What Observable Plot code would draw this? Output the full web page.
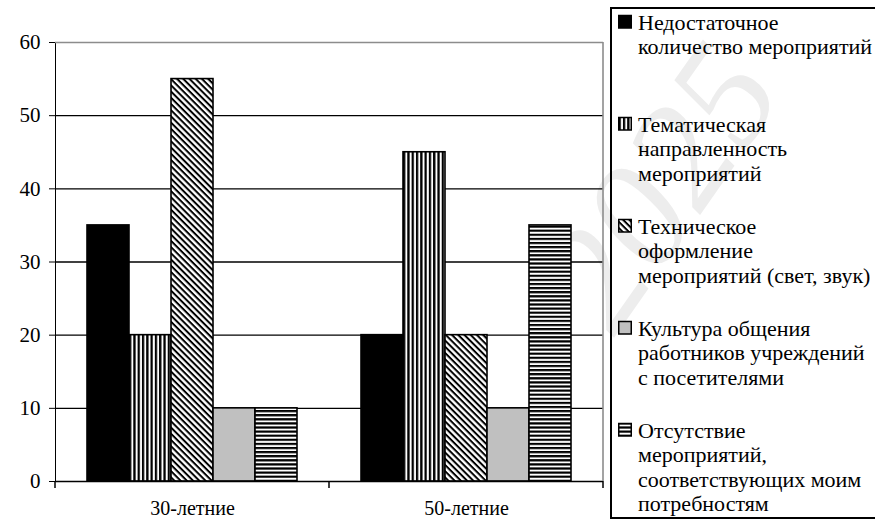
<!DOCTYPE html>
<html lang="ru">
<head>
<meta charset="utf-8">
<script src="https://cdn.jsdelivr.net/npm/d3@7"></script>
<script src="https://cdn.jsdelivr.net/npm/@observablehq/plot@0.6"></script>
<style>
  html, body { margin: 0; padding: 0; background: #fff; }
  body { font-family: "Liberation Serif", "Times New Roman", serif; color: #000; }
  #wrap { position: relative; width: 875px; height: 521px; overflow: hidden; background: #fff; }
  #watermark { position: absolute; left: 0; top: 0; z-index: 0; }
  #chart { position: absolute; left: 0; top: 0; z-index: 1; }
  #legend { position: absolute; left: 610px; top: 0; z-index: 1; overflow: hidden; }
</style>
</head>
<body>
<div id="wrap">
  <svg id="watermark" width="875" height="521"></svg>
  <div id="chart"></div>
  <svg id="legend" width="265" height="521"></svg>
</div>
<script>
// ---- data ----
const groups = ["30-летние", "50-летние"];
const series = [
  "Недостаточное количество мероприятий",
  "Тематическая направленность мероприятий",
  "Техническое оформление мероприятий (свет, звук)",
  "Культура общения работников учреждений с посетителями",
  "Отсутствие мероприятий, соответствующих моим потребностям"
];
const legendLines = [
  ["Недостаточное", "количество мероприятий"],
  ["Тематическая", "направленность", "мероприятий"],
  ["Техническое", "оформление", "мероприятий (свет, звук)"],
  ["Культура общения", "работников учреждений", "с посетителями"],
  ["Отсутствие", "мероприятий,", "соответствующих моим", "потребностям"]
];
const values30 = [35, 20, 55, 10, 10];
const values50 = [20, 45, 20, 10, 35];
const yTicks = [0, 10, 20, 30, 40, 50, 60];

// ---- styles ----
const FONT = "Liberation Serif, Times New Roman, serif";
const fills = ["#000000", "url(#pVert)", "url(#pDiag)", "#c0c0c0", "url(#pHorz)"];

const valuesByGroup = [values30, values50];
const data = groups.flatMap((g, gi) =>
  series.map((s, si) => ({group: g, series: s, value: valuesByGroup[gi][si]}))
);

const plot = Plot.plot({
  width: 610,
  height: 521,
  marginLeft: 55,
  marginRight: 7,
  marginTop: 42,
  marginBottom: 40,
  style: {fontFamily: FONT, fontSize: "20px", color: "#000", background: "transparent", overflow: "visible"},
  facet: {data, x: "group"},
  fx: {domain: groups, padding: 0, label: null, tickSize: 0, tickPadding: 19, axis: "bottom"},
  x: {domain: series, paddingInner: 0, paddingOuter: 0.76, axis: null},
  y: {domain: [0, 60], ticks: yTicks, tickSize: 6, tickPadding: 9, label: null, line: true},
  color: {domain: series, range: fills},
  marks: [
    Plot.ruleY(yTicks.slice(1, -1), {stroke: "#000", strokeWidth: 1.4}),
    Plot.ruleY([yTicks[yTicks.length - 1]], {stroke: "#8c8c8c", strokeWidth: 1.6}),
    Plot.barY(data, {x: "series", y: "value", fill: "series", stroke: "#000", strokeWidth: 1.6}),
    Plot.ruleY([0], {stroke: "#000", strokeWidth: 1.6})
  ]
});
document.getElementById("chart").appendChild(plot);

const svg = d3.select(plot.tagName.toLowerCase() === "svg" ? plot : plot.querySelector("svg"));
svg.selectAll("[aria-label='y-axis tick label'] text, g[aria-label='y-axis'] text").style("font-size", "21px");

// patterns
const defs = svg.insert("defs", ":first-child");
const pv = defs.append("pattern").attr("id", "pVert").attr("patternUnits", "userSpaceOnUse")
  .attr("width", 4.3).attr("height", 10);
pv.append("rect").attr("width", 4.3).attr("height", 10).attr("fill", "#fff");
pv.append("rect").attr("width", 2.3).attr("height", 10).attr("fill", "#000");

const ph = defs.append("pattern").attr("id", "pHorz").attr("patternUnits", "userSpaceOnUse")
  .attr("width", 10).attr("height", 4.1);
ph.append("rect").attr("width", 10).attr("height", 4.1).attr("fill", "#fff");
ph.append("rect").attr("width", 10).attr("height", 2.2).attr("fill", "#000");

const pd = defs.append("pattern").attr("id", "pDiag").attr("patternUnits", "userSpaceOnUse")
  .attr("width", 10).attr("height", 4.4).attr("patternTransform", "rotate(45)");
pd.append("rect").attr("width", 10).attr("height", 4.4).attr("fill", "#fff");
pd.append("rect").attr("width", 10).attr("height", 2.0).attr("fill", "#000");

// axis boundary ticks and right frame border, from the library's scales
const fx = plot.scale("fx");
const ys = plot.scale("y");
const y0 = ys.apply(0), yTop = ys.apply(yTicks[yTicks.length - 1]);
const bounds = groups.map(g => fx.apply(g)).concat([fx.apply(groups[groups.length - 1]) + fx.bandwidth]);
const deco = svg.append("g");
deco.selectAll("line.tk").data(bounds).join("line")
  .attr("x1", d => d).attr("x2", d => d).attr("y1", y0).attr("y2", y0 + 7)
  .attr("stroke", "#000").attr("stroke-width", 1.5);
deco.append("line")
  .attr("x1", bounds[bounds.length - 1]).attr("x2", bounds[bounds.length - 1])
  .attr("y1", yTop).attr("y2", y0)
  .attr("stroke", "#8c8c8c").attr("stroke-width", 1.6);

// legend (SVG box, right edge runs past the page as in the reference)
const lg = d3.select("#legend").style("font-family", FONT);
lg.append("rect").attr("x", 1).attr("y", 8).attr("width", 320).attr("height", 510)
  .attr("fill", "none").attr("stroke", "#000").attr("stroke-width", 2);
const itemCenters = [23, 125, 227, 329, 431];
const lineStep = 24.6;
series.forEach((s, i) => {
  const c = itemCenters[i];
  lg.append("rect").attr("x", 8.75).attr("y", c - 7.5).attr("width", 12.5).attr("height", 12.5)
    .attr("fill", fills[i]).attr("stroke", "#000").attr("stroke-width", 1.5);
  legendLines[i].forEach((l, j) => {
    lg.append("text").attr("x", 28).attr("y", c + 6.5 + j * lineStep)
      .attr("font-size", 22).attr("fill", "#000").text(l);
  });
});

// faint watermark
const wm = d3.select("#watermark");
wm.append("text").attr("x", 700).attr("y", 215).attr("text-anchor", "middle")
  .attr("transform", "rotate(-55 700 215)")
  .attr("font-family", FONT).attr("font-style", "italic").attr("font-size", 150)
  .attr("fill", "#ededed").text("2025");
</script>
</body>
</html>
